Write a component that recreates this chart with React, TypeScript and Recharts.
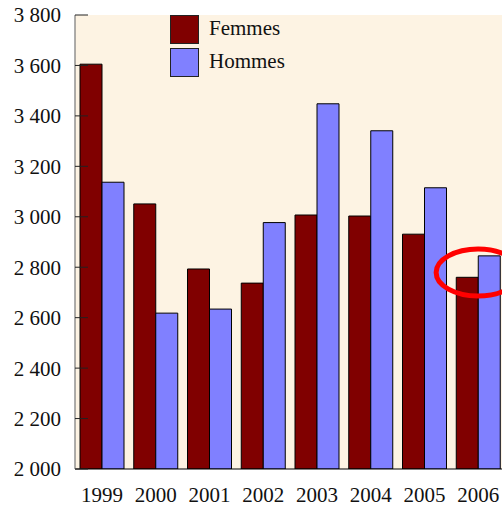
import React from 'react';
import { BarChart, Bar, XAxis, YAxis, CartesianGrid, ReferenceDot } from 'recharts';

const years = ['1999', '2000', '2001', '2002', '2003', '2004', '2005', '2006'];
const femmes = [3605, 3051, 2793, 2737, 3007, 3003, 2931, 2760];
const hommes = [3137, 2618, 2634, 2977, 3448, 3341, 3115, 2845];
const yTicks = [2000, 2200, 2400, 2600, 2800, 3000, 3200, 3400, 3600, 3800];
const highlightYear = '2006';
const highlightValue = 2779;

const data = years.map((year, i) => ({ year, Femmes: femmes[i], Hommes: hommes[i] }));

const FONT = '"Liberation Serif", "Times New Roman", serif';
const RED = '#800000';
const BLUE = '#8080ff';

const fmt = (v: number) => String(v).replace(/\B(?=(\d{3})+(?!\d))/g, ' ');

const YTick = (props: any) => {
  const { x, y, payload } = props;
  return (
    <g>
      <line x1={x + 14} x2={x + 27} y1={y} y2={y} stroke="#222" strokeWidth={1} />
      <text x={x} y={y} dy="0.355em" textAnchor="end" style={{ fontSize: 21, fontFamily: FONT }} fill="#111">
        {fmt(payload.value)}
      </text>
    </g>
  );
};

const Ellipse = (props: any) => (
  <ellipse cx={props.cx} cy={props.cy} rx={42} ry={23.5} fill="none" stroke="#ff0000" strokeWidth={5} />
);

const App: React.FC = () => (
  <div style={{ position: 'absolute', left: 0, top: 0, width: 502, height: 506, overflow: 'hidden', background: '#fff' }}>
    <BarChart
      width={505}
      height={506}
      data={data}
      margin={{ top: 15, right: 0, bottom: 0, left: 0 }}
      barCategoryGap={5}
      barGap={0}
      style={{ fontFamily: FONT }}
    >
      <CartesianGrid horizontal={false} vertical={false} fill="#fdf3e3" strokeOpacity={0} />
      <XAxis
        dataKey="year"
        height={37}
        tickLine={false}
        tickSize={0}
        tickMargin={18}
        axisLine={{ stroke: '#000', strokeWidth: 1.2 }}
        tick={{ fontSize: 21, fontFamily: FONT, fill: '#111' }}
      />
      <YAxis
        width={75}
        domain={[2000, 3800]}
        ticks={yTicks}
        allowDataOverflow
        tickLine={false}
        tickSize={0}
        tickMargin={14}
        axisLine={{ stroke: '#777', strokeWidth: 1.2 }}
        tick={<YTick />}
        interval={0}
      />
      <Bar dataKey="Femmes" fill={RED} stroke="#000" strokeWidth={1} isAnimationActive={false} />
      <Bar dataKey="Hommes" fill={BLUE} stroke="#000" strokeWidth={1} isAnimationActive={false} />
      <ReferenceDot x={highlightYear} y={highlightValue} ifOverflow="visible" shape={<Ellipse />} />
    </BarChart>
    <div style={{ position: 'absolute', left: 170, top: 15, fontFamily: FONT, fontSize: 21, color: '#111' }}>
      {[
        { name: 'Femmes', color: RED },
        { name: 'Hommes', color: BLUE },
      ].map((item, i) => (
        <div key={item.name} style={{ position: 'absolute', left: 0, top: i * 33, display: 'flex', alignItems: 'center', whiteSpace: 'nowrap' }}>
          <div style={{ width: 27, height: 27, background: item.color, border: '1px solid #222' }} />
          <span style={{ marginLeft: 10, lineHeight: '24px', position: 'relative', top: -2 }}>{item.name}</span>
        </div>
      ))}
    </div>
  </div>
);

export default App;
